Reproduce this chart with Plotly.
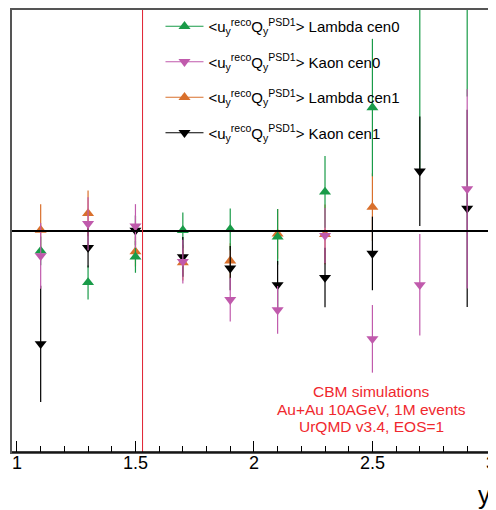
import plotly.graph_objects as go

# rapidity bins
rap = [1.1, 1.3, 1.5, 1.7, 1.9, 2.1, 2.3, 2.5, 2.7, 2.9]

# <u_y Q_y> values (arbitrary units)
lam_cen0 = [-0.0018, -0.00466, -0.00234, 0.00006, 0.00015, -0.00054, 0.00354, 0.01117, 0.02252, 0.02613]
lam_cen0_err = [0.0013, 0.00153, 0.00144, 0.00162, 0.00189, 0.00252, 0.00324, 0.00622, 0.01712, 0.01396]

kaon_cen0 = [-0.00225, 0.00066, 0.00045, -0.00277, -0.00622, -0.00714, -0.00041, -0.00976, -0.00487, 0.00381]
kaon_cen0_err = [0.00297, 0.0024, 0.00198, 0.00198, 0.00198, 0.00216, 0.0025, 0.00306, 0.00459, 0.00901]

lam_cen1 = [0.00009, 0.00159, -0.00187, -0.00286, -0.0027, -0.00027, -0.0003, 0.00216, None, None]
lam_cen1_err = [0.00234, 0.00207, 0.00135, 0.00162, 0.0016, 0.00225, 0.0027, 0.00306, None, None]

kaon_cen1 = [-0.01021, -0.0015, 0.00006, -0.00234, -0.00336, -0.00487, -0.00421, -0.00203, 0.00541, 0.00205]
kaon_cen1_err = [0.00526, 0.0018, 0.00135, 0.0018, 0.002, 0.00216, 0.0027, 0.00333, 0.00496, 0.00892]

labels = [
    "&lt;u<sub>y</sub><sup>reco</sup>Q<sub>y</sub><sup>PSD1</sup>&gt; Lambda cen0",
    "&lt;u<sub>y</sub><sup>reco</sup>Q<sub>y</sub><sup>PSD1</sup>&gt; Kaon cen0",
    "&lt;u<sub>y</sub><sup>reco</sup>Q<sub>y</sub><sup>PSD1</sup>&gt; Lambda cen1",
    "&lt;u<sub>y</sub><sup>reco</sup>Q<sub>y</sub><sup>PSD1</sup>&gt; Kaon cen1",
]

GREEN = "#199b48"
MAGENTA = "#c05aac"
ORANGE = "#d9702c"
BLACK = "#000000"
FONT = "Liberation Sans, Arial, sans-serif"

# page body has an 8px margin; plot area spans screen x 12..492, y 8..452
OFF = 8
PL, PR, PT, PB = 12.3, 492, 8, 452
PW, PH = PR - PL, PB - PT

fig = go.Figure()

# data traces in drawing order
series = [
    (lam_cen1, lam_cen1_err, ORANGE, "triangle-up"),
    (lam_cen0, lam_cen0_err, GREEN, "triangle-up"),
    (kaon_cen1, kaon_cen1_err, BLACK, "triangle-down"),
    (kaon_cen0, kaon_cen0_err, MAGENTA, "triangle-down"),
]
for vals, errs, col, sym in series:
    fig.add_trace(go.Scatter(
        x=rap, y=vals, mode="markers",
        marker=dict(symbol=sym, size=10.5, color=col, line=dict(width=0)),
        error_y=dict(type="data", array=errs, visible=True, width=0, thickness=1.2, color=col),
        showlegend=False, cliponaxis=True,
    ))

# legend entries
leg = [
    (labels[0], GREEN, "triangle-up"),
    (labels[1], MAGENTA, "triangle-down"),
    (labels[2], ORANGE, "triangle-up"),
    (labels[3], BLACK, "triangle-down"),
]
for i, (name, col, sym) in enumerate(leg):
    fig.add_trace(go.Scatter(
        x=[None], y=[None], mode="lines+markers", name=name,
        line=dict(color=col, width=1.2),
        marker=dict(symbol=sym, size=10.5, color=col),
        legendgroup=f"g{i}", showlegend=True,
    ))

fig.add_shape(type="line", xref="paper", yref="y", x0=0, x1=1, y0=0, y1=0,
              line=dict(color="black", width=2), layer="above")
fig.add_shape(type="line", xref="x", yref="paper", x0=1.53, x1=1.53, y0=0, y1=1,
              line=dict(color="#e02030", width=1), layer="above")
# bottom axis line (black) over the grey frame
fig.add_shape(type="line", xref="paper", yref="paper", x0=0, x1=1, y0=0, y1=0,
              line=dict(color="black", width=1.5), layer="above")

red_lines = ["CBM simulations", "Au+Au 10AGeV, 1M events", "UrQMD v3.4, EOS=1"]
for i, t in enumerate(red_lines):
    fig.add_annotation(text=t, xref="paper", yref="paper",
                       x=(372 - PL) / PW, y=(PB - (391.7 + 17.5 * i)) / PH,
                       xanchor="center", yanchor="middle", showarrow=False,
                       font=dict(family=FONT, size=15.5, color="#f0282e"))

fig.add_annotation(text="y", xref="paper", yref="paper",
                   x=(485 - PL) / PW, y=(PB - 495) / PH,
                   xanchor="center", yanchor="middle", showarrow=False,
                   font=dict(family=FONT, size=25, color="black"))

fig.update_layout(
    width=496 - OFF, height=510 - OFF,
    margin=dict(l=PL - OFF, r=496 - PR, t=PT - OFF, b=510 - PB, pad=0),
    paper_bgcolor="white", plot_bgcolor="white",
    font=dict(family=FONT, color="black"),
    legend=dict(x=(161 - PL) / PW, y=1, xanchor="left", yanchor="top",
                bgcolor="rgba(0,0,0,0)", borderwidth=0,
                font=dict(family=FONT, size=15, color="black"),
                itemwidth=38, tracegroupgap=13),
    xaxis=dict(range=[0.979, 3.0005], showgrid=False, zeroline=False,
               showline=True, linecolor="#555555", linewidth=1.5, mirror=True,
               ticks="inside", ticklen=11, tickwidth=1, tickcolor="black",
               tickmode="linear", tick0=1, dtick=0.5,
               minor=dict(ticks="inside", ticklen=6, tickwidth=1, tickcolor="black", dtick=0.1, tick0=1),
               ticklabelstandoff=-6, ticklabeloverflow="allow",
               tickfont=dict(family=FONT, size=18, color="black")),
    yaxis=dict(range=[-0.02, 0.02], showgrid=False, zeroline=False,
               showline=True, linecolor="#555555", linewidth=1.5, mirror=True,
               showticklabels=False, ticks=""),
)

fig.write_html("out.html")
